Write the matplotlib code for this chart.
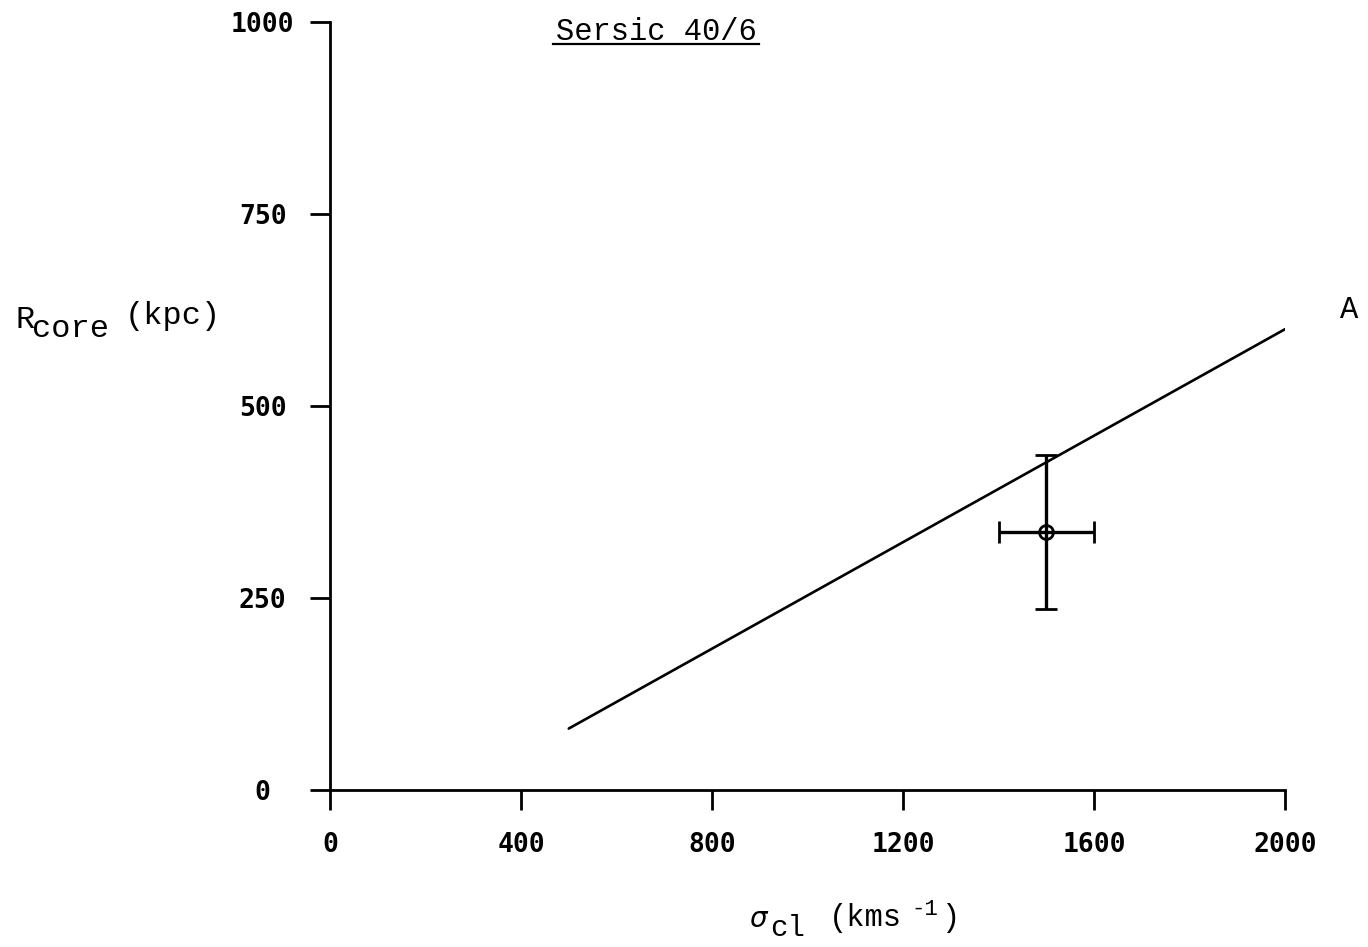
import matplotlib
matplotlib.use('Agg')
import matplotlib.pyplot as plt
from matplotlib.lines import Line2D

# core radius vs. cluster velocity dispersion
line_sigma = [500, 2000]
line_rcore = [80, 600]

obs_sigma = [1500]
obs_rcore = [336]
obs_sigma_err = [100]
obs_rcore_err = [100]

x_ticks = [0, 400, 800, 1200, 1600, 2000]
y_ticks = [0, 250, 500, 750, 1000]

W, H = 1368, 947
MONO = 'Liberation Mono'
TICKFONT = 'DejaVu Sans Mono'

fig = plt.figure(figsize=(W / 100, H / 100), dpi=100)
ax = fig.add_axes([330 / W, 1 - 790 / H, 955 / W, 768 / H])


def fpos(x, y):
    return x / W, 1 - y / H


ax.plot(line_sigma, line_rcore, color='black', linewidth=1.9, solid_capstyle='round')
ax.errorbar(obs_sigma, obs_rcore, xerr=obs_sigma_err, yerr=obs_rcore_err,
            fmt='o', color='black', markerfacecolor='none', markeredgewidth=2,
            markersize=10, elinewidth=2.4, capsize=8, capthick=2.4)

ax.set_xlim(0, 2000)
ax.set_ylim(0, 1000)
ax.set_xticks(x_ticks)
ax.set_yticks(y_ticks)
ax.set_xticklabels([str(v) for v in x_ticks], fontfamily=TICKFONT,
                   fontweight='bold', fontsize=19)
ax.set_yticklabels([str(v) for v in y_ticks], fontfamily=TICKFONT,
                   fontweight='bold', fontsize=19)
for lab in ax.get_yticklabels():
    lab.set_horizontalalignment('center')

for side in ['top', 'right']:
    ax.spines[side].set_visible(False)
for side in ['left', 'bottom']:
    ax.spines[side].set_linewidth(2)
ax.tick_params(axis='both', direction='out', length=14.5, width=2, color='black')
ax.tick_params(axis='x', pad=16)
ax.tick_params(axis='y', pad=34)

# title, underlined
title = fig.text(*fpos(656, 40), 'Sersic 40/6', fontfamily=MONO, fontsize=22,
                 ha='center', va='baseline')
fig.canvas.draw()
bb = title.get_window_extent(fig.canvas.get_renderer())
fig.add_artist(Line2D([(bb.x0 - 3) / W, (bb.x1 + 3) / W],
                      [1 - 44 / H, 1 - 44 / H],
                      transform=fig.transFigure, color='black', linewidth=1.6))

# y label: R_core (kpc)
fig.text(*fpos(15, 328), 'R', fontfamily=MONO, fontsize=23, va='baseline')
fig.text(*fpos(32, 337), 'core', fontfamily=MONO, fontsize=23, va='baseline')
fig.text(*fpos(125, 324), '(kpc)', fontfamily=MONO, fontsize=23, va='baseline')

# x label: sigma_cl (kms^-1)
fig.text(*fpos(749, 927), r'$\sigma$', fontsize=20, va='baseline')
fig.text(*fpos(770, 936), 'cl', fontfamily=MONO, fontsize=21, va='baseline')
fig.text(*fpos(829, 926), '(kms', fontfamily=MONO, fontsize=22, va='baseline')
fig.text(*fpos(911, 915), '-1', fontfamily=MONO, fontsize=16, va='baseline')
fig.text(*fpos(941, 926), ')', fontfamily=MONO, fontsize=22, va='baseline')

fig.text(*fpos(1340, 318), 'A', fontfamily=MONO, fontsize=22, va='baseline')

fig.savefig('out.png', dpi=100)
